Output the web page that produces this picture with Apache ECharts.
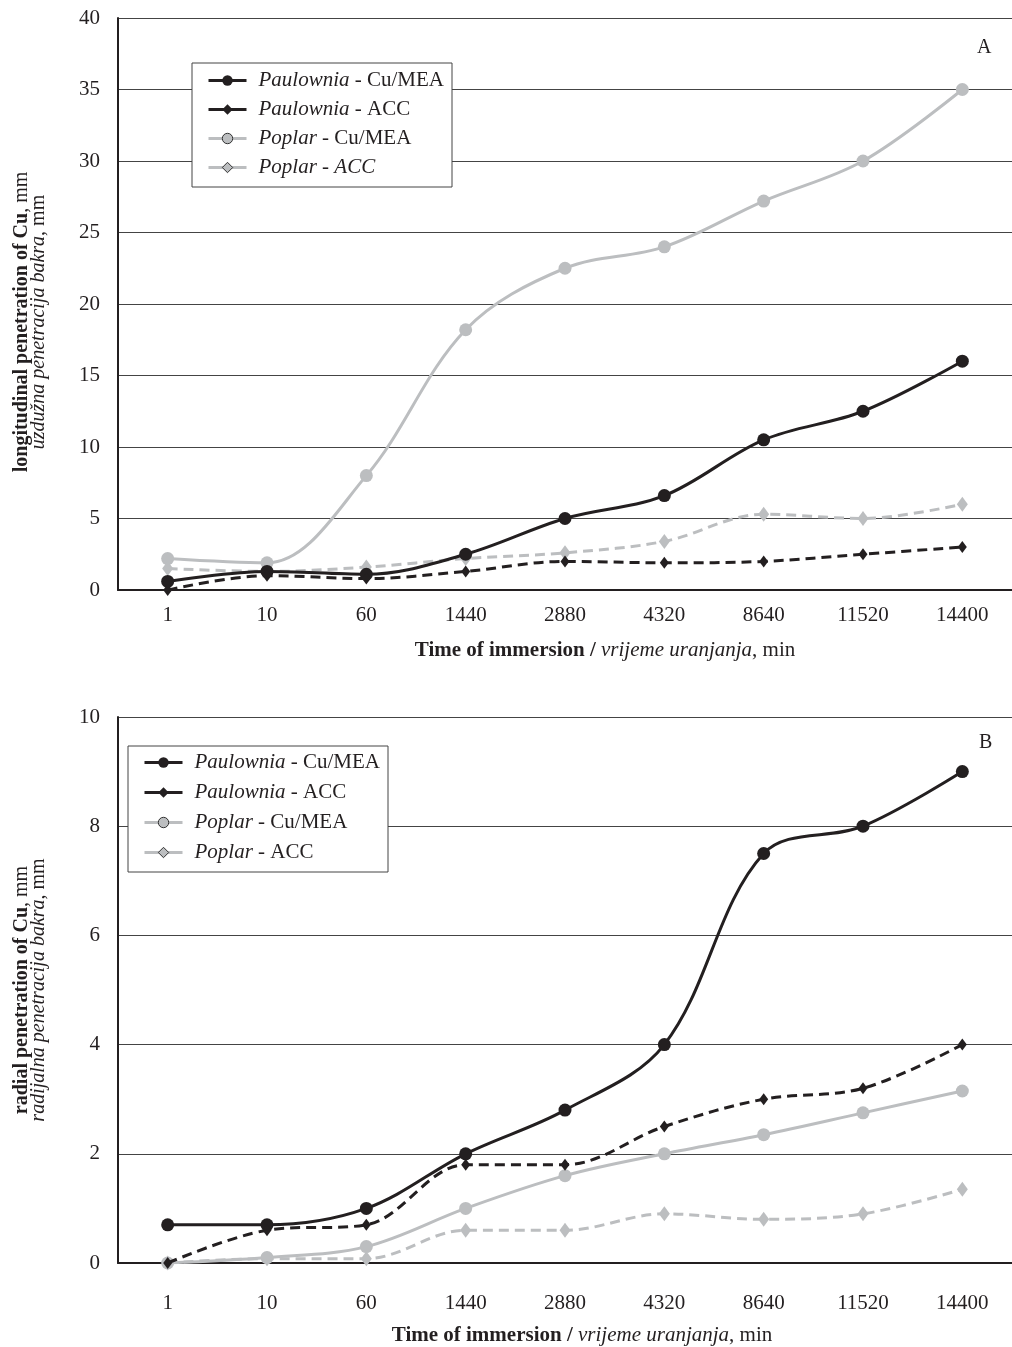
<!DOCTYPE html>
<html>
<head>
<meta charset="utf-8">
<script src="https://cdn.jsdelivr.net/npm/echarts@6/dist/echarts.min.js"></script>
<style>html,body{margin:0;padding:0;background:#fff}#c{width:1012px;height:1347px}</style>
</head>
<body>
<div id="c"></div>
<script>
const categories = ['1','10','60','1440','2880','4320','8640','11520','14400'];
const seriesNames = ['Paulownia - Cu/MEA','Paulownia - ACC','Poplar - Cu/MEA','Poplar - ACC'];

// Chart A: longitudinal penetration (mm)
const longPaulowniaCuMEA = [0.6, 1.3, 1.1, 2.5, 5.0, 6.6, 10.5, 12.5, 16.0];
const longPaulowniaACC   = [0.0, 1.0, 0.8, 1.3, 2.0, 1.9, 2.0, 2.5, 3.0];
const longPoplarCuMEA    = [2.2, 1.9, 8.0, 18.2, 22.5, 24.0, 27.2, 30.0, 35.0];
const longPoplarACC      = [1.5, 1.3, 1.6, 2.2, 2.6, 3.4, 5.3, 5.0, 6.0];

// Chart B: radial penetration (mm)
const radPaulowniaCuMEA = [0.7, 0.7, 1.0, 2.0, 2.8, 4.0, 7.5, 8.0, 9.0];
const radPaulowniaACC   = [0.0, 0.6, 0.7, 1.8, 1.8, 2.5, 3.0, 3.2, 4.0];
const radPoplarCuMEA    = [0.0, 0.1, 0.3, 1.0, 1.6, 2.0, 2.35, 2.75, 3.15];
const radPoplarACC      = [0.0, 0.08, 0.08, 0.6, 0.6, 0.9, 0.8, 0.9, 1.35];

const BLACK = '#231f20';
const GRAY = '#bcbec0';
const FONT = '"Liberation Serif", "DejaVu Serif", serif';

const rich = {
  i: {fontFamily: FONT, fontStyle: 'italic', fontSize: 21, color: '#231f20', lineHeight: 21},
  n: {fontFamily: FONT, fontSize: 21, color: '#231f20', lineHeight: 21}
};

function legendFmtA(name) {
  if (name === 'Poplar - ACC') return '{i|Poplar - ACC}';
  const p = name.split(' - ');
  return '{i|' + p[0] + '}{n| - ' + p[1] + '}';
}
function legendFmtB(name) {
  const p = name.split(' - ');
  return '{i|' + p[0] + '}{n| - ' + p[1] + '}';
}

function mkSeries(idx, data, gi) {
  const isPaul = idx < 2;
  const isACC = idx % 2 === 1;
  const color = isPaul ? BLACK : GRAY;
  let sym;
  if (!isACC) sym = 13;
  else if (isPaul) sym = [9, 12];
  else sym = [11, 15];
  return {
    name: seriesNames[idx],
    type: 'line',
    xAxisIndex: gi, yAxisIndex: gi,
    data: data,
    smooth: 0.35,
    symbol: isACC ? 'diamond' : 'circle',
    symbolSize: sym,
    itemStyle: {color: color, borderWidth: 0},
    lineStyle: {color: color, width: 3, type: isACC ? [10, 6] : 'solid'},
    emphasis: {disabled: true},
    z: isPaul ? 3 : 2,
    animation: false
  };
}

function yAxisCfg(gi, max, interval, nameRich, shiftDown) {
  return {
    type: 'value', gridIndex: gi, min: 0, max: max, interval: interval,
    axisLine: {show: true, lineStyle: {color: '#231f20', width: 2}},
    axisTick: {show: false},
    axisLabel: {fontFamily: FONT, fontSize: 21, color: '#231f20', margin: 18},
    splitLine: {show: true, lineStyle: {color: '#444', width: 1}},
    name: nameRich,
    nameLocation: 'middle',
    nameRotate: 90,
    nameGap: 71,
    nameTextStyle: {
      lineHeight: 17,
      padding: [0, shiftDown * 2, 0, 0],
      rich: {
        b: {fontFamily: FONT, fontWeight: 'bold', fontSize: 20, color: '#231f20', lineHeight: 17},
        n: {fontFamily: FONT, fontSize: 20, color: '#231f20', lineHeight: 17},
        i: {fontFamily: FONT, fontStyle: 'italic', fontSize: 20, color: '#231f20', lineHeight: 17}
      }
    }
  };
}

function xAxisCfg(gi, margin, gap, padLeft) {
  return {
    type: 'category', gridIndex: gi, data: categories, boundaryGap: true,
    axisLine: {show: true, lineStyle: {color: '#231f20', width: 2}},
    axisTick: {show: false},
    axisLabel: {fontFamily: FONT, fontSize: 21, color: '#231f20', margin: margin, interval: 0},
    splitLine: {show: false},
    name: '{b|Time of immersion / }{i|vrijeme uranjanja}{n|, min}',
    nameLocation: 'middle',
    nameGap: gap,
    nameTextStyle: {
      padding: [0, 0, 0, padLeft],
      rich: {
        b: {fontFamily: FONT, fontWeight: 'bold', fontSize: 21, color: '#231f20'},
        i: {fontFamily: FONT, fontStyle: 'italic', fontSize: 21, color: '#231f20'},
        n: {fontFamily: FONT, fontSize: 21, color: '#231f20'}
      }
    }
  };
}

function legendData() {
  return seriesNames.map((n, k) => ({
    name: n,
    itemStyle: k >= 2 ? {borderColor: '#333', borderWidth: 1} : {}
  }));
}

const chart = echarts.init(document.getElementById('c'), null, {renderer: 'canvas'});
chart.setOption({
  backgroundColor: '#fff',
  animation: false,
  grid: [
    {left: 118, top: 18, width: 905, height: 572},
    {left: 118, top: 717, width: 904, height: 549}
  ],
  xAxis: [xAxisCfg(0, 15, 50, 80), xAxisCfg(1, 30, 62, 34)],
  yAxis: [
    yAxisCfg(0, 40, 5, '{b|longitudinal penetration of Cu}{n|, mm}\n{i|uzdužna penetracija bakra}{n|, mm}', 18),
    yAxisCfg(1, 10, 2, '{b|radial penetration of Cu}{n|, mm}\n{i|radijalna penetracija bakra}{n|, mm}', 0)
  ],
  legend: [
    {
      left: 192, top: 63, orient: 'vertical',
      data: legendData(),
      formatter: legendFmtA,
      textStyle: {rich: rich, fontFamily: FONT, fontSize: 21, padding: [0, 0, 0, 7]},
      itemWidth: 38, itemHeight: 13, itemGap: 8,
      padding: [7, 8, 9, 15],
      borderColor: '#444', borderWidth: 1, backgroundColor: '#fff',
      lineStyle: {type: 'solid', width: 3},
      selectedMode: false
    },
    {
      left: 128, top: 746, orient: 'vertical',
      data: legendData(),
      formatter: legendFmtB,
      textStyle: {rich: rich, fontFamily: FONT, fontSize: 21, padding: [0, 0, 0, 7]},
      itemWidth: 38, itemHeight: 13, itemGap: 9,
      padding: [6, 8, 9, 15],
      borderColor: '#444', borderWidth: 1, backgroundColor: '#fff',
      lineStyle: {type: 'solid', width: 3},
      selectedMode: false
    }
  ],
  graphic: [
    {type: 'text', left: 977, top: 38, style: {text: 'A', font: '20px "Liberation Serif"', fill: '#231f20'}},
    {type: 'text', left: 979, top: 733, style: {text: 'B', font: '20px "Liberation Serif"', fill: '#231f20'}}
  ],
  series: [
    mkSeries(0, longPaulowniaCuMEA, 0),
    mkSeries(1, longPaulowniaACC, 0),
    mkSeries(2, longPoplarCuMEA, 0),
    mkSeries(3, longPoplarACC, 0),
    mkSeries(0, radPaulowniaCuMEA, 1),
    mkSeries(1, radPaulowniaACC, 1),
    mkSeries(2, radPoplarCuMEA, 1),
    mkSeries(3, radPoplarACC, 1)
  ]
});
</script>
</body>
</html>
